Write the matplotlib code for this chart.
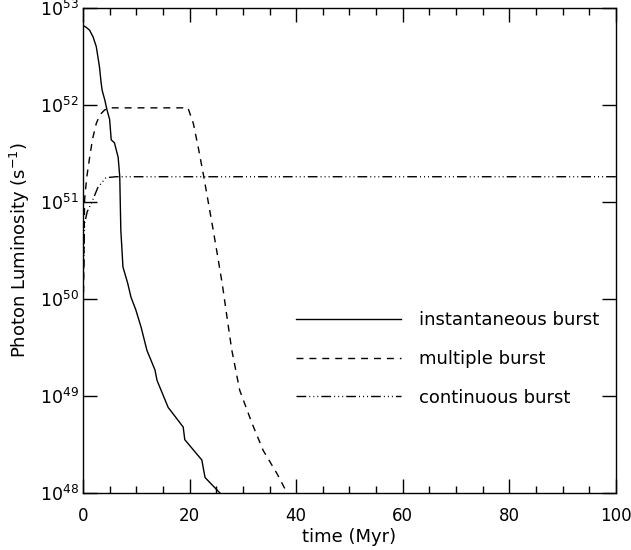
import matplotlib
matplotlib.use('Agg')
import matplotlib.pyplot as plt
import matplotlib.transforms as mtransforms
from matplotlib.ticker import MultipleLocator, LogLocator, NullLocator
import numpy as np

# instantaneous burst (time in Myr, log10 luminosity)
t_inst = [0.0, 0.6, 1.25, 1.9, 2.5, 3.1, 3.4, 3.6, 4.1, 4.5, 5.0, 5.3, 5.9, 6.6, 6.9,
          7.1, 7.5, 8.4, 9.0, 9.9, 10.9, 12.0, 13.5, 13.9, 16.0, 16.3, 18.8, 19.1,
          22.3, 22.9, 25.7]
logL_inst = [52.82, 52.80, 52.77, 52.70, 52.60, 52.39, 52.23, 52.15, 52.05, 51.95, 51.85,
             51.64, 51.61, 51.46, 51.26, 50.71, 50.33, 50.16, 50.02, 49.89, 49.71, 49.47,
             49.27, 49.16, 48.88, 48.86, 48.68, 48.55, 48.34, 48.16, 48.0]

# multiple burst
t_mult = [0.0, 0.1, 0.3, 0.7, 1.25, 1.8, 2.5, 3.2, 4.1, 5.0, 19.7, 20.7, 21.6, 22.6,
          23.5, 24.4, 25.3, 26.2, 27.0, 27.9, 29.4, 31.7, 33.8, 36.4, 38.3]
logL_mult = [49.8, 50.05, 51.02, 51.25, 51.46, 51.65, 51.81, 51.90, 51.95, 51.97, 51.97,
             51.81, 51.57, 51.28, 51.0, 50.72, 50.43, 50.13, 49.82, 49.48, 49.06, 48.72,
             48.44, 48.20, 48.0]

# continuous burst
t_cont = [0.0, 0.05, 0.3, 0.8, 1.6, 2.8, 4.3, 6.2, 100.0]
logL_cont = [49.8, 50.1, 50.78, 50.9, 50.99, 51.15, 51.25, 51.26, 51.26]

labels = ['instantaneous burst', 'multiple burst', 'continuous burst']

plt.rcParams['font.family'] = ['DejaVu Sans']
plt.rcParams['mathtext.fontset'] = 'dejavusans'

fig = plt.figure(figsize=(6.31, 5.5), dpi=100)
ax = fig.add_axes([0.1315, 0.1036, 0.8447, 0.882])

lw = 1.0
ax.plot(t_inst, 10.0 ** np.array(logL_inst), color='black', lw=lw, label=labels[0])
ax.plot(t_mult, 10.0 ** np.array(logL_mult), color='black', lw=lw,
        dashes=(5, 4.3), label=labels[1])
ax.plot(t_cont, 10.0 ** np.array(logL_cont), color='black', lw=lw,
        dashes=(7, 2.2, 0.7, 2.2, 0.7, 2.2, 0.7, 2.2), label=labels[2])

ax.set_yscale('log')
ax.set_xlim(0, 100)
ax.set_ylim(1e48, 1e53)
ax.xaxis.set_major_locator(MultipleLocator(20))
ax.xaxis.set_minor_locator(MultipleLocator(5))
ax.yaxis.set_major_locator(LogLocator(base=10, numticks=10))
ax.yaxis.set_minor_locator(NullLocator())

ax.tick_params(which='both', direction='in', top=True, right=True, width=1)
ax.tick_params(which='major', length=10)
ax.tick_params(which='minor', length=5)
ax.tick_params(axis='x', pad=10, labelsize=12)
ax.tick_params(axis='y', pad=3, labelsize=12.5)
for s in ax.spines.values():
    s.set_linewidth(1)

# nudge the "100" label so it stays inside the figure
fig.canvas.draw()
last = ax.get_xticklabels()[-1]
last.set_transform(last.get_transform() +
                   mtransforms.ScaledTranslation(-2 / 100, 0, fig.dpi_scale_trans))

ax.set_xlabel('time (Myr)', fontsize=13, labelpad=2)
ax.set_ylabel('Photon Luminosity (s$^{-1}$)', fontsize=13, labelpad=6)

ax.legend(loc='upper left', bbox_to_anchor=(0.40, 0.375), frameon=False,
          fontsize=13, handlelength=5.8, handletextpad=1.0, labelspacing=1.15,
          borderpad=0, borderaxespad=0)

fig.savefig('out.png', dpi=100)
